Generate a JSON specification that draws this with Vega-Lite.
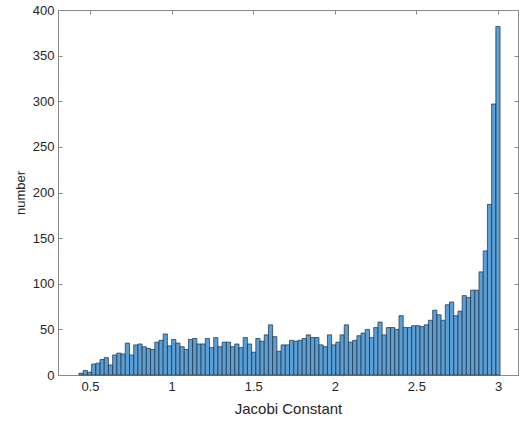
{
  "$schema": "https://vega.github.io/schema/vega-lite/v6.json",
  "width": 460,
  "height": 365,
  "autosize": "none",
  "padding": {"left": 58, "top": 10, "right": 1, "bottom": 48},
  "background": "white",
  "config": {
    "view": {"stroke": "#8a8a8a", "strokeWidth": 1},
    "axis": {
      "grid": false,
      "domainColor": "#8a8a8a",
      "tickColor": "#8a8a8a",
      "tickSize": -4,
      "labelColor": "#262626",
      "titleColor": "#262626",
      "labelFont": "Liberation Sans",
      "titleFont": "Liberation Sans",
      "labelFontSize": 13,
      "titleFontSize": 13,
      "titleFontWeight": "normal"
    }
  },
  "data": {
    "values": [
      {"x0": 0.4325, "x1": 0.4583, "n": 2},
      {"x0": 0.4583, "x1": 0.4841, "n": 5},
      {"x0": 0.4841, "x1": 0.5099, "n": 3},
      {"x0": 0.5099, "x1": 0.5357, "n": 12},
      {"x0": 0.5357, "x1": 0.5615, "n": 13},
      {"x0": 0.5615, "x1": 0.5873, "n": 17},
      {"x0": 0.5873, "x1": 0.6131, "n": 19},
      {"x0": 0.6131, "x1": 0.6389, "n": 11},
      {"x0": 0.6389, "x1": 0.6647, "n": 22},
      {"x0": 0.6647, "x1": 0.6905, "n": 24},
      {"x0": 0.6905, "x1": 0.7163, "n": 23},
      {"x0": 0.7163, "x1": 0.7421, "n": 35},
      {"x0": 0.7421, "x1": 0.7679, "n": 22},
      {"x0": 0.7679, "x1": 0.7937, "n": 33},
      {"x0": 0.7937, "x1": 0.8195, "n": 34},
      {"x0": 0.8195, "x1": 0.8453, "n": 31},
      {"x0": 0.8453, "x1": 0.8711, "n": 29},
      {"x0": 0.8711, "x1": 0.8969, "n": 28},
      {"x0": 0.8969, "x1": 0.9227, "n": 36},
      {"x0": 0.9227, "x1": 0.9485, "n": 38},
      {"x0": 0.9485, "x1": 0.9743, "n": 45},
      {"x0": 0.9743, "x1": 1.0001, "n": 32},
      {"x0": 1.0001, "x1": 1.0259, "n": 39},
      {"x0": 1.0259, "x1": 1.0517, "n": 35},
      {"x0": 1.0517, "x1": 1.0775, "n": 31},
      {"x0": 1.0775, "x1": 1.1033, "n": 28},
      {"x0": 1.1033, "x1": 1.1291, "n": 39},
      {"x0": 1.1291, "x1": 1.1549, "n": 40},
      {"x0": 1.1549, "x1": 1.1807, "n": 34},
      {"x0": 1.1807, "x1": 1.2065, "n": 34},
      {"x0": 1.2065, "x1": 1.2323, "n": 40},
      {"x0": 1.2323, "x1": 1.2581, "n": 30},
      {"x0": 1.2581, "x1": 1.2839, "n": 41},
      {"x0": 1.2839, "x1": 1.3097, "n": 31},
      {"x0": 1.3097, "x1": 1.3355, "n": 36},
      {"x0": 1.3355, "x1": 1.3613, "n": 36},
      {"x0": 1.3613, "x1": 1.3871, "n": 31},
      {"x0": 1.3871, "x1": 1.4129, "n": 34},
      {"x0": 1.4129, "x1": 1.4387, "n": 30},
      {"x0": 1.4387, "x1": 1.4645, "n": 41},
      {"x0": 1.4645, "x1": 1.4903, "n": 34},
      {"x0": 1.4903, "x1": 1.5161, "n": 25},
      {"x0": 1.5161, "x1": 1.5419, "n": 40},
      {"x0": 1.5419, "x1": 1.5677, "n": 37},
      {"x0": 1.5677, "x1": 1.5935, "n": 44},
      {"x0": 1.5935, "x1": 1.6193, "n": 55},
      {"x0": 1.6193, "x1": 1.6451, "n": 42},
      {"x0": 1.6451, "x1": 1.6709, "n": 26},
      {"x0": 1.6709, "x1": 1.6967, "n": 33},
      {"x0": 1.6967, "x1": 1.7225, "n": 33},
      {"x0": 1.7225, "x1": 1.7483, "n": 38},
      {"x0": 1.7483, "x1": 1.7741, "n": 37},
      {"x0": 1.7741, "x1": 1.7999, "n": 38},
      {"x0": 1.7999, "x1": 1.8257, "n": 40},
      {"x0": 1.8257, "x1": 1.8515, "n": 44},
      {"x0": 1.8515, "x1": 1.8773, "n": 41},
      {"x0": 1.8773, "x1": 1.9031, "n": 41},
      {"x0": 1.9031, "x1": 1.9289, "n": 33},
      {"x0": 1.9289, "x1": 1.9547, "n": 31},
      {"x0": 1.9547, "x1": 1.9805, "n": 44},
      {"x0": 1.9805, "x1": 2.0063, "n": 33},
      {"x0": 2.0063, "x1": 2.0321, "n": 36},
      {"x0": 2.0321, "x1": 2.0579, "n": 44},
      {"x0": 2.0579, "x1": 2.0837, "n": 55},
      {"x0": 2.0837, "x1": 2.1095, "n": 36},
      {"x0": 2.1095, "x1": 2.1353, "n": 38},
      {"x0": 2.1353, "x1": 2.1611, "n": 43},
      {"x0": 2.1611, "x1": 2.1869, "n": 46},
      {"x0": 2.1869, "x1": 2.2127, "n": 50},
      {"x0": 2.2127, "x1": 2.2385, "n": 41},
      {"x0": 2.2385, "x1": 2.2643, "n": 52},
      {"x0": 2.2643, "x1": 2.2901, "n": 58},
      {"x0": 2.2901, "x1": 2.3159, "n": 44},
      {"x0": 2.3159, "x1": 2.3417, "n": 52},
      {"x0": 2.3417, "x1": 2.3675, "n": 52},
      {"x0": 2.3675, "x1": 2.3933, "n": 50},
      {"x0": 2.3933, "x1": 2.4191, "n": 65},
      {"x0": 2.4191, "x1": 2.4449, "n": 52},
      {"x0": 2.4449, "x1": 2.4707, "n": 52},
      {"x0": 2.4707, "x1": 2.4965, "n": 54},
      {"x0": 2.4965, "x1": 2.5223, "n": 54},
      {"x0": 2.5223, "x1": 2.5481, "n": 53},
      {"x0": 2.5481, "x1": 2.5739, "n": 55},
      {"x0": 2.5739, "x1": 2.5997, "n": 60},
      {"x0": 2.5997, "x1": 2.6255, "n": 71},
      {"x0": 2.6255, "x1": 2.6513, "n": 66},
      {"x0": 2.6513, "x1": 2.6771, "n": 60},
      {"x0": 2.6771, "x1": 2.7029, "n": 77},
      {"x0": 2.7029, "x1": 2.7287, "n": 80},
      {"x0": 2.7287, "x1": 2.7545, "n": 65},
      {"x0": 2.7545, "x1": 2.7803, "n": 70},
      {"x0": 2.7803, "x1": 2.8061, "n": 87},
      {"x0": 2.8061, "x1": 2.8319, "n": 85},
      {"x0": 2.8319, "x1": 2.8577, "n": 93},
      {"x0": 2.8577, "x1": 2.8835, "n": 93},
      {"x0": 2.8835, "x1": 2.9093, "n": 113},
      {"x0": 2.9093, "x1": 2.9351, "n": 136},
      {"x0": 2.9351, "x1": 2.9609, "n": 187},
      {"x0": 2.9609, "x1": 2.9867, "n": 297},
      {"x0": 2.9867, "x1": 3.0125, "n": 382}
    ]
  },
  "layer": [
    {
      "mark": {"type": "bar", "fill": "#5a9fd6", "stroke": "#1e2b38", "strokeWidth": 0.7},
      "encoding": {
        "x": {
          "field": "x0",
          "type": "quantitative",
          "scale": {"domain": [0.304, 3.1225], "nice": false, "zero": false},
          "axis": {"orient": "bottom", "values": [0.5, 1, 1.5, 2, 2.5, 3], "format": "~g", "title": "Jacobi Constant", "titleFontSize": 15, "labelPadding": 9, "titlePadding": 8}
        },
        "x2": {"field": "x1"},
        "y": {
          "field": "n",
          "type": "quantitative",
          "scale": {"domain": [0, 400], "nice": false},
          "axis": {"orient": "left", "values": [0, 50, 100, 150, 200, 250, 300, 350, 400], "title": "number", "labelPadding": 8, "titlePadding": 5}
        },
        "y2": {"datum": 0}
      }
    },
    {
      "mark": {"type": "bar", "opacity": 0},
      "encoding": {
        "x": {
          "field": "x0",
          "type": "quantitative",
          "axis": {"orient": "top", "values": [0.5, 1, 1.5, 2, 2.5, 3], "labels": false, "title": null}
        },
        "x2": {"field": "x1"},
        "y": {
          "field": "n",
          "type": "quantitative",
          "axis": {"orient": "right", "values": [0, 50, 100, 150, 200, 250, 300, 350, 400], "labels": false, "title": null}
        },
        "y2": {"datum": 0}
      }
    }
  ],
  "resolve": {"axis": {"x": "independent", "y": "independent"}}
}
